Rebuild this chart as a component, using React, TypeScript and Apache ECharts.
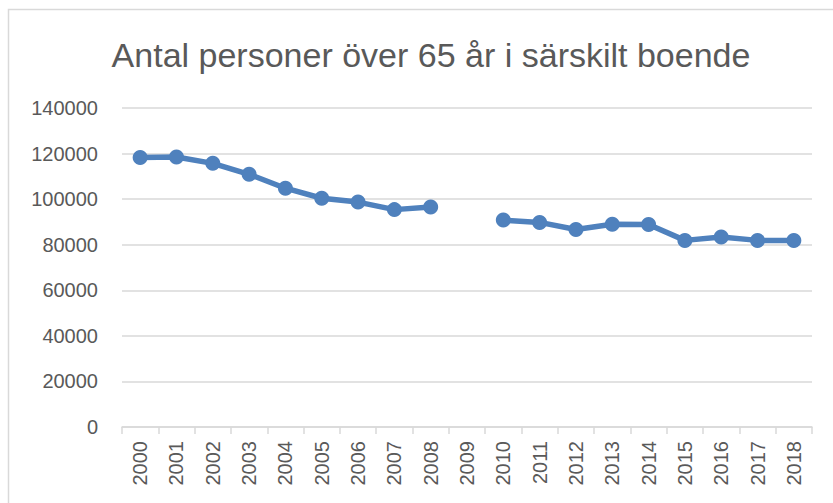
import React, { useEffect, useRef } from "react";
import * as echarts from "echarts";

const categories = ["2000","2001","2002","2003","2004","2005","2006","2007","2008","2009","2010","2011","2012","2013","2014","2015","2016","2017","2018"];
const values: (number | null)[] = [118300, 118500, 115700, 110900, 104800, 100400, 98700, 95400, 96500, null, 90800, 89800, 86700, 89000, 88900, 81900, 83400, 81900, 81900];
const yTicks = { min: 0, max: 140000, interval: 20000 };
const titleText = "Antal personer över 65 år i särskilt boende";

export default function App() {
  const ref = useRef<HTMLDivElement>(null);
  useEffect(() => {
    document.body.style.margin = "0";
    const chart = echarts.init(ref.current!, null, { renderer: "svg" });
    const font = "'Liberation Sans', Arial, sans-serif";
    chart.setOption({
      animation: false,
      backgroundColor: "#ffffff",
      title: {
        text: titleText,
        left: 426,
        textAlign: "center",
        top: 33,
        textStyle: { fontFamily: font, fontSize: 34, fontWeight: "normal", color: "#595959" },
      },
      graphic: [
        {
          type: "rect",
          shape: { x: 8.5, y: 9.5, width: 1000, height: 1000 },
          style: { fill: "none", stroke: "#d9d9d9", lineWidth: 1.5 },
          silent: true,
        },
      ],
      grid: { left: 122, right: 21, top: 108, bottom: 76, containLabel: false },
      xAxis: {
        type: "category",
        data: categories,
        boundaryGap: true,
        axisLine: { lineStyle: { color: "#d9d9d9", width: 1.5 } },
        axisTick: { show: true, length: 7, lineStyle: { color: "#d9d9d9", width: 1.5 } },
        axisLabel: { rotate: 90, margin: 14, color: "#595959", fontFamily: font, fontSize: 20, interval: 0 },
        splitLine: { show: false },
      },
      yAxis: {
        type: "value",
        min: yTicks.min,
        max: yTicks.max,
        interval: yTicks.interval,
        axisLine: { show: false },
        axisTick: { show: false },
        axisLabel: { margin: 24, color: "#595959", fontFamily: font, fontSize: 20, formatter: (v: number) => String(v) },
        splitLine: { lineStyle: { color: "#d9d9d9", width: 1.5 } },
      },
      series: [
        {
          type: "line",
          data: values,
          connectNulls: false,
          symbol: "circle",
          symbolSize: 15,
          lineStyle: { color: "#4f81bd", width: 5.5 },
          itemStyle: { color: "#4f81bd" },
        },
      ],
    });
    return () => chart.dispose();
  }, []);
  return <div ref={ref} style={{ width: 833, height: 503 }} />;
}
